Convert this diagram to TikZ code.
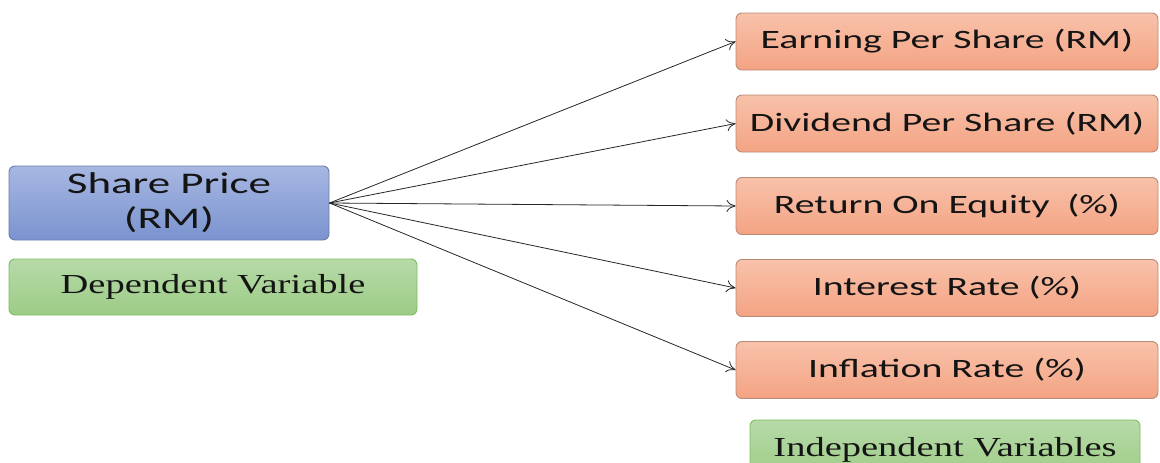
\documentclass[tikz,border=0pt]{standalone}
\usepackage{fontspec}
\usetikzlibrary{arrows.meta}
\newfontfamily\boxfont[FakeStretch=1.5]{Carlito}
\newfontfamily\serffont[FakeStretch=1.4]{Liberation Serif}
\definecolor{bluetop}{HTML}{A7B7E2}
\definecolor{bluebot}{HTML}{7A93CF}
\definecolor{blueline}{HTML}{6A7DA8}
\definecolor{ortop}{HTML}{F8C2AA}
\definecolor{orbot}{HTML}{F4A383}
\definecolor{orline}{HTML}{B98A78}
\definecolor{grtop}{HTML}{B7DAA8}
\definecolor{grbot}{HTML}{9CCC86}
\definecolor{grline}{HTML}{7DBD5E}
\definecolor{txt}{HTML}{141414}
\tikzset{
  base/.style={rounded corners=6pt, line width=0.9pt, inner sep=0pt, align=center, text=txt},
  bluebox/.style={base, draw=blueline, top color=bluetop, bottom color=bluebot,
     minimum width=320pt, minimum height=74pt, font=\boxfont\fontsize{30}{35}\selectfont},
  orbox/.style={base, draw=orline, top color=ortop, bottom color=orbot,
     minimum width=422pt, minimum height=57pt, font=\boxfont\fontsize{26.5}{30}\selectfont},
  grbox/.style={base, draw=grline, top color=grtop, bottom color=grbot,
     font=\serffont\fontsize{27.5}{30}\selectfont},
  arr/.style={line width=0.8pt, draw=black!85, -{To[length=9pt,width=12pt]}}
}
\begin{document}
\begin{tikzpicture}[x=1pt,y=-1pt]
\useasboundingbox (0,0) rectangle (1160,463);
\begin{scope}
\clip (0,0) rectangle (1160,463);
\node[bluebox] (sp) at (169,203) {Share Price\\(RM)};
\node[grbox, minimum width=408pt, minimum height=56pt] (dv) at (213,287) {Dependent Variable};
\node[orbox] (eps) at (947,41.5) {Earning Per Share (RM)};
\node[orbox] (dps) at (947,123.5) {Dividend Per Share (RM)};
\node[orbox] (roe) at (947,206) {Return On Equity~~(\%)};
\node[orbox] (ir) at (947,288) {Interest Rate (\%)};
\node[orbox] (inf) at (947,370) {Inflation Rate (\%)};
\node[grbox, minimum width=390pt, minimum height=60pt] (iv) at (945,450) {Independent Variables};
\end{scope}
\foreach \t in {eps,dps,roe,ir,inf}
  \draw[arr] (sp.east) -- (\t.west);
\end{tikzpicture}
\end{document}
